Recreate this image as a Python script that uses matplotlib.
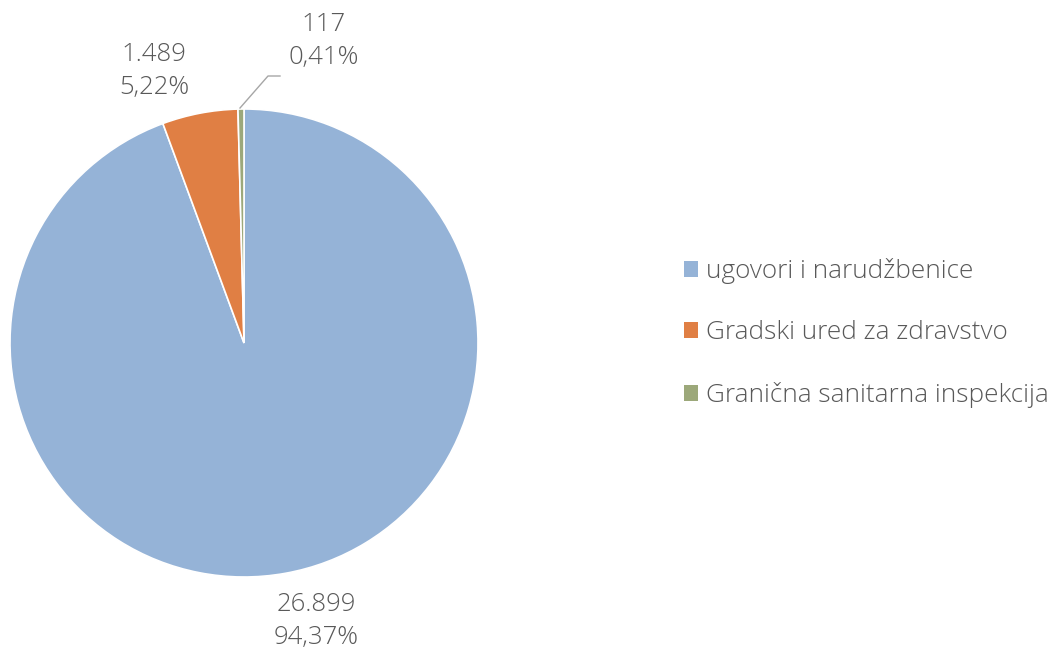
import matplotlib.pyplot as plt
from matplotlib.patches import Patch

# data
categories = ['ugovori i narudžbenice', 'Gradski ured za zdravstvo', 'Granična sanitarna inspekcija']
values = [26899, 1489, 117]
value_labels = ['26.899', '1.489', '117']
pct_labels = ['94,37%', '5,22%', '0,41%']
colors = ['#95B3D7', '#E07F44', '#9CA87A']

plt.rcParams['font.family'] = ['Open Sans', 'DejaVu Sans']
plt.rcParams['font.weight'] = 'light'
txt_color = '#595959'

W, H = 1049, 653
fig = plt.figure(figsize=(W / 100, H / 100), dpi=100)

# pie centred at (244, 343) px, radius 234 px
cx, cy, r = 244, 343, 234
ax = fig.add_axes([(cx - r) / W, (H - cy - r) / H, 2 * r / W, 2 * r / H])
ax.pie(values, colors=colors, startangle=90, counterclock=False, radius=1,
       wedgeprops=dict(edgecolor='white', linewidth=1.2))
ax.set_xlim(-1, 1)
ax.set_ylim(-1, 1)
ax.set_aspect('equal')
ax.axis('off')

# data labels (pixel positions from the reference)
label_pos = [(316, 621), (154, 71), (324, 41)]
for (x, y), v, p in zip(label_pos, value_labels, pct_labels):
    fig.text(x / W, 1 - y / H, v + '\n' + p, ha='center', va='center',
             fontsize=18.5, color=txt_color, linespacing=1.4)

# leader line for the small slice
fig.add_artist(plt.Line2D([240 / W, 268 / W, 280 / W],
                          [1 - 108 / H, 1 - 76 / H, 1 - 76 / H],
                          color='#A6A6A6', linewidth=1))

handles = [Patch(facecolor=c, edgecolor='none') for c in colors]
leg = fig.legend(handles, categories, loc='center left',
                 bbox_to_anchor=(660 / W, 1 - 333 / H), frameon=False,
                 fontsize=18.8, handlelength=0.55, handleheight=0.55,
                 handletextpad=0.3, labelspacing=1.4)
for t in leg.get_texts():
    t.set_color(txt_color)

fig.savefig('out.png', dpi=100)
